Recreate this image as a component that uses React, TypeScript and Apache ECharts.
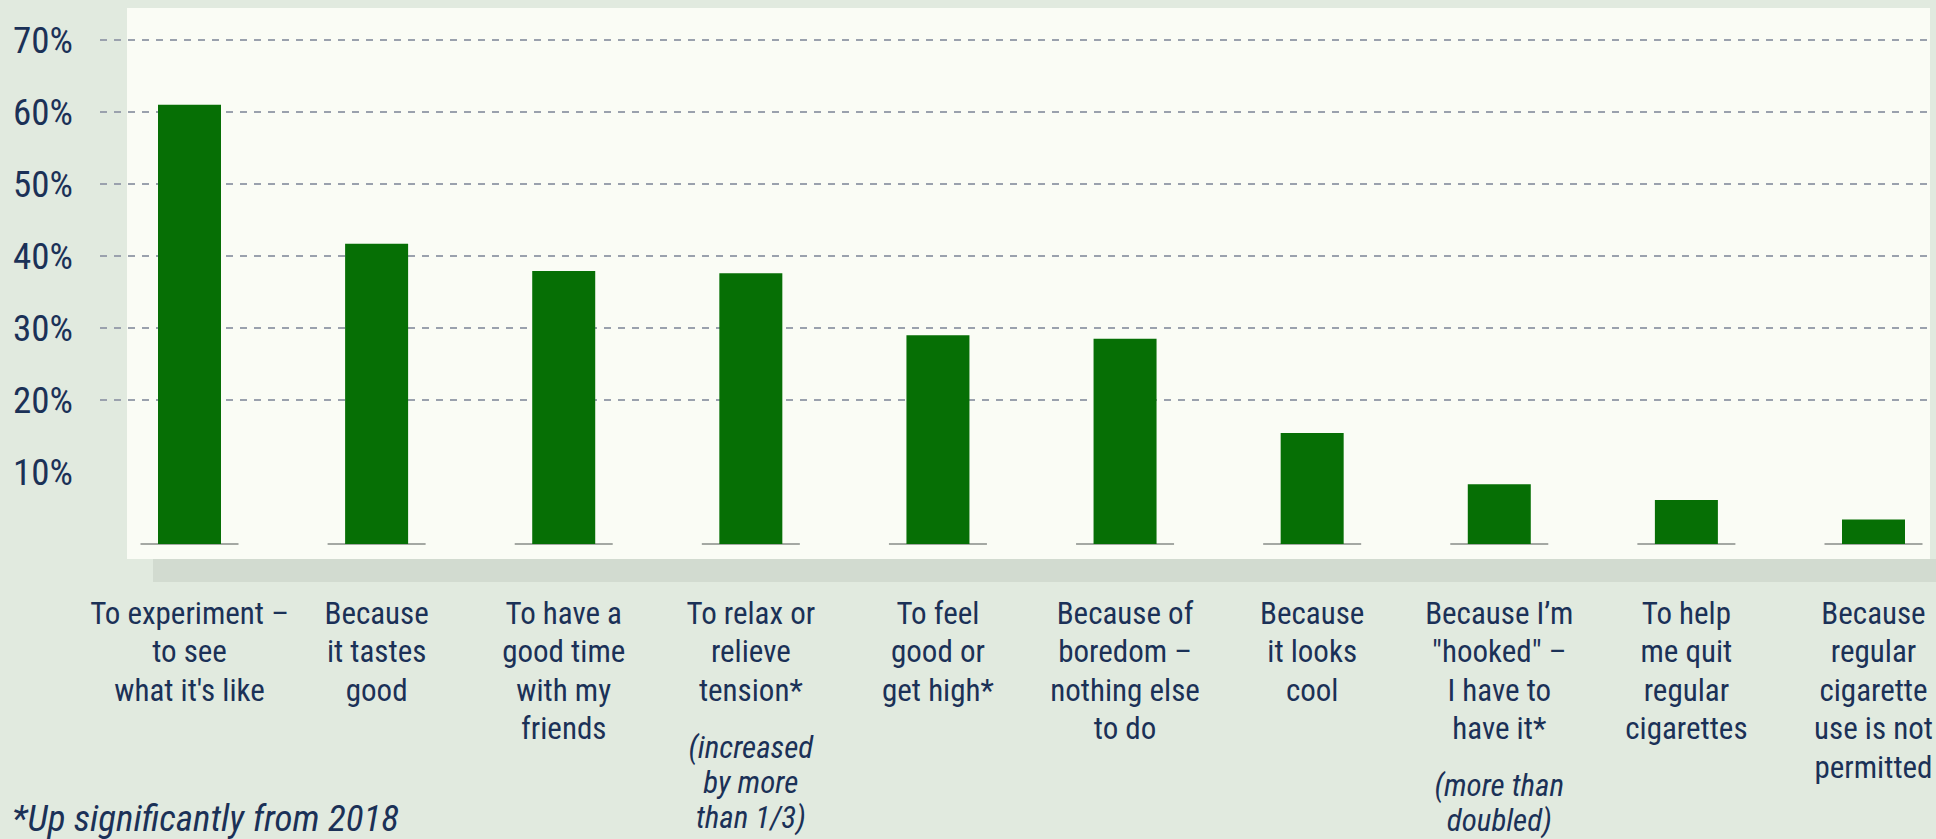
import React, { useEffect, useRef } from "react";
import * as echarts from "echarts";

const categories = [
  "To experiment –\nto see\nwhat it's like",
  "Because\nit tastes\ngood",
  "To have a\ngood time\nwith my\nfriends",
  "To relax or\nrelieve\ntension*",
  "To feel\ngood or\nget high*",
  "Because of\nboredom –\nnothing else\nto do",
  "Because\nit looks\ncool",
  "Because I’m\n\"hooked\" –\nI have to\nhave it*",
  "To help\nme quit\nregular\ncigarettes",
  "Because\nregular\ncigarette\nuse is not\npermitted",
];

const notes = [
  "",
  "",
  "",
  "(increased\nby more\nthan 1/3)",
  "",
  "",
  "",
  "(more than\ndoubled)",
  "",
  "",
];

const values = [61, 41.7, 37.9, 37.6, 29.0, 28.5, 15.4, 8.3, 6.1, 3.4];

const yTicks = [0, 10, 20, 30, 40, 50, 60, 70];

const footnote = "*Up significantly from 2018";

const FONT =
  "'Roboto Condensed', 'Liberation Sans Narrow', 'Arial Narrow', 'DejaVu Sans Condensed', Roboto, sans-serif";
const TEXT = "#1b3157";
const GRID_COLOR = "#9aa1ad";

export default function App() {
  const ref = useRef<HTMLDivElement>(null);

  useEffect(() => {
    if (!ref.current) return;
    const chart = echarts.init(ref.current, null, { renderer: "svg" });

    const labelFormatter = (_v: string, idx: number) => {
      const main = categories[idx]
        .split("\n")
        .map((l) => `{a|${l}}`)
        .join("\n");
      const note = notes[idx];
      if (!note) return main;
      const nl = note.split("\n").map((l) => `{n|${l}}`);
      return main + "\n{s| }\n" + nl.join("\n");
    };

    chart.setOption({
      animation: false,
      backgroundColor: "#e1eadf",
      textStyle: { fontFamily: FONT },
      graphic: {
        elements: [
          {
            type: "rect",
            z: -10,
            shape: { x: 153, y: 559, width: 1783, height: 23 },
            style: { fill: "#d2dbd0" },
            silent: true,
          },
          {
            type: "rect",
            z: -9,
            shape: { x: 127, y: 8, width: 1803, height: 551 },
            style: { fill: "#fafcf5" },
            silent: true,
          },
          {
            type: "text",
            z: 10,
            x: 12,
            y: 837,
            style: {
              text: footnote,
              fontFamily: FONT,
              fontSize: 37,
              fontStyle: "italic",
              fill: TEXT,
              verticalAlign: "bottom",
              align: "left",
            },
            silent: true,
          },
        ],
      },
      grid: [
        { left: 100, right: 7, top: 40, bottom: 295, outerBoundsMode: "none", containLabel: false },
        { left: 189.5, right: 62.5, top: 40, bottom: 295, outerBoundsMode: "none", containLabel: false },
      ],
      xAxis: [
        {
          gridIndex: 0,
          type: "value",
          show: false,
          min: 0,
          max: 1,
        },
        {
          gridIndex: 1,
          type: "category",
          data: categories,
          boundaryGap: false,
          axisLine: { show: false },
          axisTick: { show: false },
          splitLine: { show: false },
          axisLabel: {
            interval: 0,
            margin: 50,
            formatter: labelFormatter,
            rich: {
              a: {
                fontFamily: FONT,
                fontSize: 31,
                lineHeight: 38.5,
                color: TEXT,
                align: "center",
              },
              s: {
                fontFamily: FONT,
                fontSize: 8,
                lineHeight: 20,
                color: "rgba(0,0,0,0)",
                align: "center",
              },
              n: {
                fontFamily: FONT,
                fontSize: 31,
                lineHeight: 35,
                fontStyle: "italic",
                color: TEXT,
                align: "center",
              },
            },
          },
        },
      ],
      yAxis: [
        {
          gridIndex: 0,
          type: "value",
          min: yTicks[0],
          max: yTicks[yTicks.length - 1],
          interval: 10,
          axisLine: { show: false },
          axisTick: { show: false },
          axisLabel: {
            margin: 27,
            fontSize: 37,
            color: TEXT,
            fontFamily: FONT,
            formatter: (v: number) => (v === 0 ? "" : `${v}%`),
          },
          splitLine: {
            show: true,
            showMinLine: false,
            lineStyle: {
              color: yTicks.map((t) => (t === 0 ? "rgba(0,0,0,0)" : GRID_COLOR)),
              width: 2,
              type: [7, 7],
            },
          },
        },
        {
          gridIndex: 1,
          type: "value",
          min: yTicks[0],
          max: yTicks[yTicks.length - 1],
          interval: 10,
          show: false,
          splitLine: { show: false },
        },
      ],
      series: [
        {
          type: "bar",
          xAxisIndex: 1,
          yAxisIndex: 1,
          data: values,
          barWidth: 63,
          itemStyle: { color: "#066f05" },
          z: 3,
        },
        {
          type: "scatter",
          xAxisIndex: 1,
          yAxisIndex: 1,
          data: values.map(() => 0),
          symbol: "rect",
          symbolSize: [98, 2],
          itemStyle: { color: "#8f928f" },
          z: 2,
          silent: true,
        },
      ],
    });

    return () => chart.dispose();
  }, []);

  return (
    <div
      ref={ref}
      style={{ position: "fixed", left: 0, top: 0, width: 1936, height: 839 }}
    />
  );
}
